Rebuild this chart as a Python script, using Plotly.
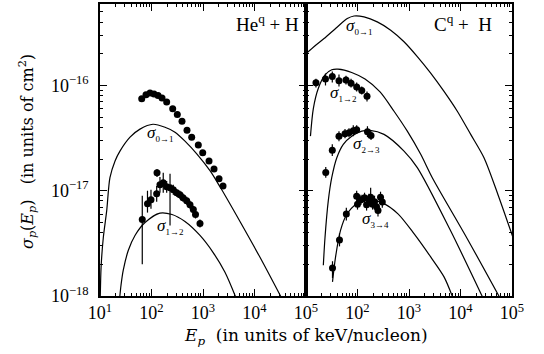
import plotly.graph_objects as go
from plotly.subplots import make_subplots

# ---------------- Left panel: He^q + H ----------------
he_s01_E = [10.1, 10.5, 11.6, 13.5, 15.6, 19.6, 24.4, 38.3, 59.8, 107, 183, 286, 447, 764, 1367, 2138, 5228, 12790, 32700]
he_s01 = [9.2e-19, 1.88e-18, 3.6e-18, 6.47e-18, 1.33e-17, 1.92e-17, 2.38e-17, 3.23e-17, 3.85e-17, 4.28e-17,
          4.01e-17, 3.6e-17, 2.96e-17, 2.23e-17, 1.55e-17, 1.09e-17, 5.1e-18, 2.33e-18, 9.8e-19]
he_s12_E = [23.9, 25.6, 28.3, 35.5, 47.8, 74.9, 146, 250, 447, 874, 1564, 2672, 4375]
he_s12 = [9.2e-19, 1.27e-18, 1.76e-18, 2.72e-18, 3.76e-18, 4.99e-18, 6.13e-18, 5.94e-18, 5.1e-18, 3.76e-18,
          2.6e-18, 1.68e-18, 9.6e-19]

he_d01_E = [64.6, 78.2, 93.5, 112, 134, 160, 197, 258, 317, 391, 489, 603, 811, 987, 1309, 1637, 2047, 2445]
he_d01 = [7.5e-17, 8.17e-17, 8.46e-17, 8.28e-17, 8.05e-17, 7.59e-17, 6.95e-17, 6.02e-17, 5.3e-17, 4.57e-17,
          3.76e-17, 3.23e-17, 2.72e-17, 2.3e-17, 1.92e-17, 1.61e-17, 1.3e-17, 1.11e-17]

he_d12_E = [66.2, 83.6, 97.7, 126, 128, 146, 169, 197, 229, 265, 308, 357, 409, 482, 559, 649, 715, 874]
he_d12 = [5.33e-18, 7.54e-18, 8.23e-18, 9.37e-18, 1.48e-17, 1.14e-17, 1.19e-17, 1.09e-17, 1.07e-17, 1.02e-17,
          9.58e-18, 9.17e-18, 8.59e-18, 8.05e-18, 7.38e-18, 6.62e-18, 5.94e-18, 4.89e-18]
he_d12_hi = [8.97e-18, 1.0e-17, 1.02e-17, 1.11e-17, 1.61e-17, 1.35e-17, 1.48e-17, 1.24e-17, 1.45e-17, 1.14e-17,
             1.04e-17, 1.0e-17, 9.37e-18, 8.78e-18, 8.05e-18, 7.22e-18, 6.48e-18, 5.33e-18]
he_d12_lo = [2.0e-18, 6.2e-18, 6.76e-18, 7.88e-18, 1.35e-17, 9.58e-18, 9.58e-18, 9.58e-18, 4.68e-18, 9.17e-18,
             8.78e-18, 8.41e-18, 7.88e-18, 7.38e-18, 6.76e-18, 6.07e-18, 5.45e-18, 4.48e-18]

# ---------------- Right panel: C^q + H ----------------
c_s01_E = [10, 15.0, 22.4, 40.6, 63.4, 85.5, 134, 242, 441, 800, 1449, 2636, 4786, 8670, 15780, 28580, 53460, 104400]
c_s01 = [2.0e-16, 2.38e-16, 2.79e-16, 3.6e-16, 4.32e-16, 4.57e-16, 4.48e-16, 4.02e-16, 3.35e-16, 2.6e-16,
         1.88e-16, 1.31e-16, 8.78e-17, 5.69e-17, 3.43e-17, 2.06e-17, 9.17e-18, 3.6e-18]
c_s12_E = [12.2, 13.9, 17.3, 23.4, 31.6, 41.8, 77.1, 140, 274, 512, 927, 1688, 2834, 12790, 58480]
c_s12 = [3.3e-17, 6.07e-17, 9.37e-17, 1.26e-16, 1.41e-16, 1.43e-16, 1.33e-16, 1.15e-16, 8.69e-17, 5.69e-17,
         3.68e-17, 2.22e-17, 1.33e-17, 3.68e-18, 9.57e-19]
c_s23_E = [21.7, 23.4, 27.1, 31.6, 39.5, 53.0, 77.1, 121, 175, 327, 800, 1449, 6252, 27350]
c_s23 = [1.96e-18, 3.6e-18, 8.05e-18, 1.33e-17, 2.05e-17, 2.76e-17, 3.3e-17, 3.68e-17, 3.74e-17, 3.43e-17,
         2.38e-17, 1.66e-17, 4.28e-18, 9.57e-19]
c_s34_E = [32.7, 37.4, 46.8, 61.7, 96.4, 160, 299, 611, 1250, 2636, 4786, 7150]
c_s34 = [1.36e-18, 2.33e-18, 4.2e-18, 5.94e-18, 7.54e-18, 8.23e-18, 7.71e-18, 6.03e-18, 3.91e-18, 2.35e-18,
         1.52e-18, 9.57e-19]

c_d12_E = [15.6, 23.9, 32.4, 43.7, 59.8, 74.9, 96.4, 121, 153]
c_d12 = [1.06e-16, 1.15e-16, 1.22e-16, 1.11e-16, 1.13e-16, 1.05e-16, 9.68e-17, 8.97e-17, 7.88e-17]
c_d12_hi = [1.16e-16, 1.30e-16, 1.355e-16, 1.27e-16, 1.24e-16, 1.16e-16, 1.07e-16, 9.79e-17, 8.78e-17]
c_d12_lo = [9.58e-17, 1.0e-16, 1.07e-16, 9.79e-17, 1.02e-16, 9.58e-17, 8.78e-17, 8.23e-17, 7.06e-17]

c_d23_E = [24.2, 32.4, 43.7, 57.2, 68.4, 82.8, 96.4, 156, 183]
c_d23 = [1.49e-17, 2.42e-17, 3.30e-17, 3.47e-17, 3.56e-17, 3.72e-17, 3.80e-17, 3.64e-17, 3.34e-17]
c_d23_hi = [1.68e-17, 2.77e-17, 3.68e-17, 3.85e-17, 3.93e-17, 4.2e-17, 4.2e-17, 4.1e-17, 3.68e-17]
c_d23_lo = [1.33e-17, 2.14e-17, 2.96e-17, 3.16e-17, 3.23e-17, 3.30e-17, 3.45e-17, 3.23e-17, 3.03e-17]

c_d34_E = [32.7, 44.7, 60.7, 96.4, 100, 117, 137, 150, 167, 180, 196, 214, 234, 250, 280, 303]
c_d34 = [1.84e-18, 3.41e-18, 6.02e-18, 8.87e-18, 7.46e-18, 8.23e-18, 8.59e-18, 7.38e-18, 8.23e-18, 8.68e-18,
         7.46e-18, 7.88e-18, 7.06e-18, 6.48e-18, 8.68e-18, 7.80e-18]
c_d34_hi = [2.14e-18, 3.93e-18, 6.91e-18, 1.0e-17, 8.41e-18, 9.17e-18, 9.58e-18, 8.41e-18, 9.37e-18, 1.07e-17,
            8.41e-18, 8.97e-18, 8.05e-18, 7.38e-18, 9.79e-18, 8.78e-18]
c_d34_lo = [1.48e-18, 2.96e-18, 5.21e-18, 7.88e-18, 6.62e-18, 7.38e-18, 7.71e-18, 6.48e-18, 7.22e-18, 7.06e-18,
            6.62e-18, 6.91e-18, 6.20e-18, 5.69e-18, 7.71e-18, 6.91e-18]

x_left_ticks = [10, 100, 1000, 10000, 100000]
x_left_text = ["10<sup>1</sup>", "10<sup>2</sup>", "10<sup>3</sup>", "10<sup>4</sup>", "10<sup>5</sup>"]
x_right_ticks = [100, 1000, 10000, 100000]
x_right_text = ["10<sup>2</sup>", "10<sup>3</sup>", "10<sup>4</sup>", "10<sup>5</sup>"]
y_ticks = [1e-18, 1e-17, 1e-16]
y_text = ["10<sup>\u221218</sup>", "10<sup>\u221217</sup>", "10<sup>\u221216</sup>"]

FONT = "Liberation Serif"
TFONT = "DejaVu Serif"
W, H = 544, 354
L, R, T, B = 100, 512, 2, 296

fig = make_subplots(rows=1, cols=2, shared_yaxes=True, horizontal_spacing=0)

line_style = dict(color="black", width=1.2, shape="spline", smoothing=0.8)


def curve(E, s, col):
    fig.add_trace(go.Scatter(x=E, y=s, mode="lines", line=line_style, hoverinfo="skip"), row=1, col=col)


def points(E, s, col, hi=None, lo=None):
    err = None
    if hi is not None:
        err = dict(type="data", symmetric=False,
                   array=[h - v for h, v in zip(hi, s)],
                   arrayminus=[v - l for v, l in zip(s, lo)],
                   color="black", thickness=1.2, width=0)
    fig.add_trace(go.Scatter(x=E, y=s, mode="markers", error_y=err,
                             marker=dict(color="black", size=7, line=dict(width=0))),
                  row=1, col=col)


curve(he_s01_E, he_s01, 1)
curve(he_s12_E, he_s12, 1)
points(he_d01_E, he_d01, 1)
points(he_d12_E, he_d12, 1, he_d12_hi, he_d12_lo)

curve(c_s01_E, c_s01, 2)
curve(c_s12_E, c_s12, 2)
curve(c_s23_E, c_s23, 2)
curve(c_s34_E, c_s34, 2)
points(c_d12_E, c_d12, 2, c_d12_hi, c_d12_lo)
points(c_d23_E, c_d23, 2, c_d23_hi, c_d23_lo)
points(c_d34_E, c_d34, 2, c_d34_hi, c_d34_lo)

minor_x = [m * 10 ** k for k in range(1, 5) for m in range(2, 10)]
minor_y = [m * 10.0 ** k for k in range(-18, -15) for m in range(2, 10)]

axis_common = dict(type="log", showline=True, linecolor="black", linewidth=1.5, mirror="allticks",
                   ticks="inside", ticklen=7, tickwidth=1.2, tickcolor="black", showgrid=False,
                   zeroline=False, tickfont=dict(family=FONT, size=18, color="black"))

fig.update_xaxes(range=[1, 5], tickmode="array",
                 minor=dict(tickmode="array", tickvals=minor_x, ticks="inside", ticklen=3.5,
                            tickwidth=1, tickcolor="black", showgrid=False),
                 **axis_common)
fig.update_xaxes(tickvals=x_left_ticks, ticktext=x_left_text, row=1, col=1)
fig.update_xaxes(tickvals=x_right_ticks, ticktext=x_right_text, row=1, col=2)
fig.update_yaxes(range=[-18, -15.226], tickmode="array", tickvals=y_ticks, ticktext=y_text,
                 minor=dict(tickmode="array", tickvals=minor_y, ticks="inside", ticklen=3.5,
                            tickwidth=1, tickcolor="black", showgrid=False),
                 **axis_common)
fig.update_yaxes(ticklabelstandoff=6, row=1, col=1)
fig.update_yaxes(showticklabels=False, row=1, col=2)


def px(x):
    return (x - L) / (R - L)


def py(y):
    return (B - y) / (B - T)


annots = []


def text(x, y, s, size, xanchor="left", angle=0, family=FONT, yanchor="middle"):
    annots.append(dict(x=px(x), y=py(y), xref="paper", yref="paper", text=s, showarrow=False,
                       xanchor=xanchor, yanchor=yanchor, textangle=angle, borderpad=0,
                       font=dict(family=family, size=size, color="black")))


def sig(sub):
    return "<i>\u03c3</i><sub><span style='font-size:9px'>" + sub + "</span></sub>"


text(300, 21, "He<sup>q</sup> + H", 19, xanchor="right")
text(493, 21, "C<sup>q</sup> +  H", 19, xanchor="right")
text(146, 132, sig("0\u21921"), 17)
text(156, 226, sig("1\u21922"), 17)
text(345, 25, sig("0\u21921"), 17)
text(329, 92, sig("1\u21922"), 17)
text(352, 143, sig("2\u21923"), 17)
text(361, 219, sig("3\u21924"), 17)

text(306, 324, "<i>E</i><sub><i>p</i></sub>  (in units of keV/nucleon)", 17, xanchor="center",
     family=TFONT, yanchor="top")
text(28, 151, "<i>\u03c3</i><sub><i>p</i></sub>(<i>E</i><sub><i>p</i></sub>)   (in units of cm<sup>2</sup>)",
     16, xanchor="center", angle=-90, family=TFONT)

fig.update_layout(width=W, height=H, margin=dict(l=L, r=W - R, t=T, b=H - B),
                  paper_bgcolor="white", plot_bgcolor="white", showlegend=False,
                  annotations=annots, font=dict(family=FONT, color="black"))

fig.write_html("out.html", config={"displayModeBar": False},
               post_script="document.body.style.margin='0px';document.body.style.padding='0px';")
